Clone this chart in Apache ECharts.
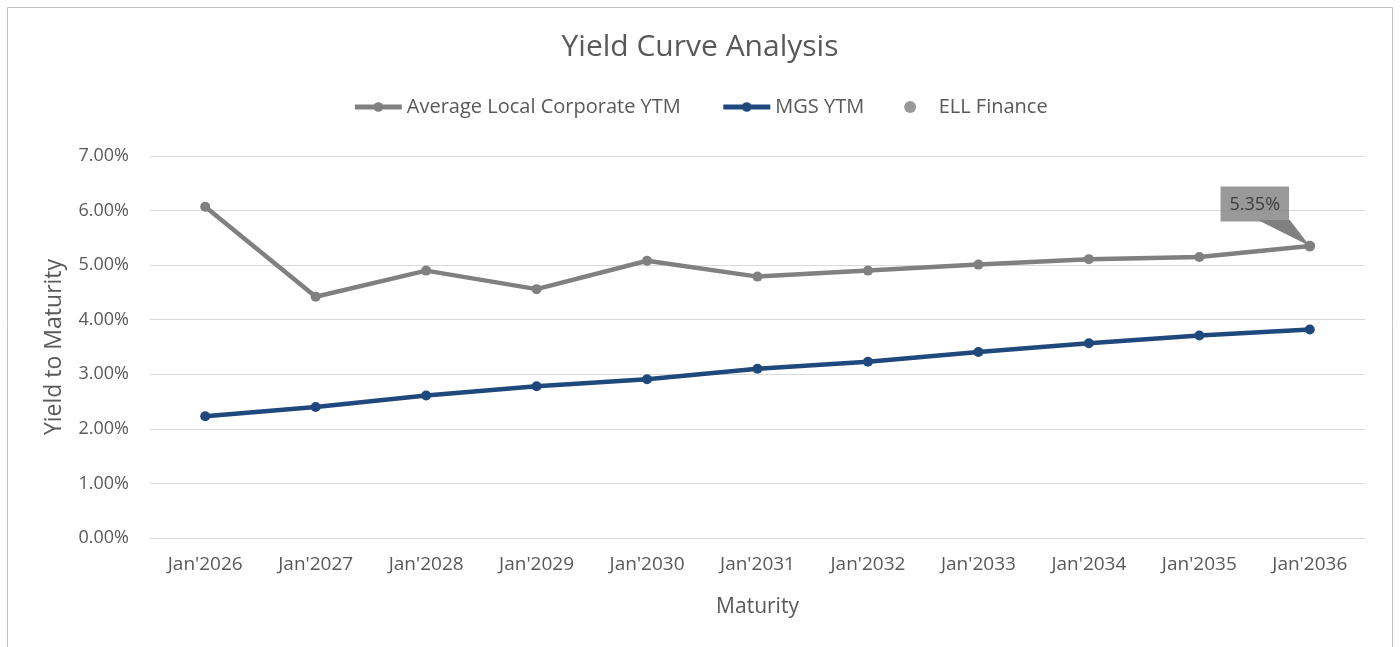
<!DOCTYPE html>
<html>
<head>
<meta charset="utf-8">
<script src="https://cdn.jsdelivr.net/npm/echarts@6/dist/echarts.min.js"></script>
<style>
html,body{margin:0;padding:0;background:#fff;}
#chart{width:1400px;height:647px;}
</style>
</head>
<body>
<div id="chart"></div>
<script>
const categories = ["Jan'2026","Jan'2027","Jan'2028","Jan'2029","Jan'2030","Jan'2031","Jan'2032","Jan'2033","Jan'2034","Jan'2035","Jan'2036"];
const corporateYTM = [6.07, 4.42, 4.90, 4.56, 5.08, 4.79, 4.90, 5.01, 5.11, 5.15, 5.35];
const mgsYTM = [2.23, 2.40, 2.61, 2.78, 2.91, 3.10, 3.23, 3.41, 3.57, 3.71, 3.82];
const ellFinance = [null, null, null, null, null, null, null, null, null, null, 5.35];

const FONT = 'Open Sans';
const TXT = '#595959';
const GRAY = '#808080';
const BLUE = '#1f497d';
const chart = echarts.init(document.getElementById('chart'));
chart.setOption({
  backgroundColor: '#fff',
  animation: false,
  textStyle: { fontFamily: FONT },
  title: {
    text: 'Yield Curve Analysis', left: 'center', top: 27,
    textStyle: { fontFamily: FONT, fontSize: 30, fontWeight: 'normal', color: TXT }
  },
  legend: {
    top: 92, left: 'center', itemGap: 40, itemWidth: 47, itemHeight: 12,
    textStyle: { fontFamily: FONT, fontSize: 20, color: TXT },
    data: [
      { name: 'Average Local Corporate YTM', lineStyle: { width: 5, color: GRAY } },
      { name: 'MGS YTM', lineStyle: { width: 5, color: BLUE } },
      { name: 'ELL Finance', icon: 'circle', itemStyle: { color: GRAY } }
    ]
  },
  grid: { left: 150, right: 35, top: 156, bottom: 109, containLabel: false },
  xAxis: {
    type: 'category', data: categories, boundaryGap: true,
    name: 'Maturity', nameLocation: 'middle', nameGap: 59,
    nameTextStyle: { fontFamily: FONT, fontSize: 21, color: TXT },
    axisLine: { show: true, lineStyle: { color: '#d9d9d9' } },
    axisTick: { show: false },
    axisLabel: { fontFamily: FONT, fontSize: 19, color: TXT, margin: 17 }
  },
  yAxis: {
    type: 'value', min: 0, max: 7, interval: 1,
    name: 'Yield to Maturity', nameLocation: 'middle', nameGap: 84,
    nameTextStyle: { fontFamily: FONT, fontSize: 23, color: TXT },
    axisLine: { show: false }, axisTick: { show: false },
    splitLine: { lineStyle: { color: '#d9d9d9' } },
    axisLabel: { fontFamily: FONT, fontSize: 18, color: TXT, margin: 21,
      formatter: v => v.toFixed(2) + '%' }
  },
  series: [
    {
      name: 'Average Local Corporate YTM', type: 'line', data: corporateYTM,
      symbol: 'circle', symbolSize: 10,
      lineStyle: { color: GRAY, width: 4.5 },
      itemStyle: { color: GRAY }
    },
    {
      name: 'MGS YTM', type: 'line', data: mgsYTM,
      symbol: 'circle', symbolSize: 10,
      lineStyle: { color: BLUE, width: 4.5 },
      itemStyle: { color: BLUE }
    },
    {
      name: 'ELL Finance', type: 'scatter', data: ellFinance,
      symbol: 'circle', symbolSize: 11, z: 5,
      itemStyle: { color: GRAY },
      label: {
        show: true, position: 'top',
        formatter: p => p.value.toFixed(2) + '%',
        backgroundColor: GRAY, color: '#262626',
        fontFamily: FONT, fontSize: 18,
        padding: [9, 9, 8, 9]
      },
      labelLayout: { dx: -55, dy: -14 }
    }
  ]
});

// border and callout pointer (pointer anchored through the chart's own scale)
function drawExtras() {
  const idx = ellFinance.findIndex(v => v != null);
  const pt = chart.convertToPixel({ seriesIndex: 2 }, [idx, ellFinance[idx]]);
  chart.setOption({
    graphic: [
      { type: 'rect', silent: true, z: -1,
        shape: { x: 7.5, y: 7.5, width: 1385, height: 700 },
        style: { fill: 'none', stroke: '#bfbfbf', lineWidth: 1 } },
      { type: 'polygon', silent: true, z: 4,
        shape: { points: [[pt[0] - 52, pt[1] - 26], [pt[0] - 20, pt[1] - 26], [pt[0], pt[1]]] },
        style: { fill: GRAY } }
    ]
  });
}
drawExtras();
</script>
</body>
</html>
